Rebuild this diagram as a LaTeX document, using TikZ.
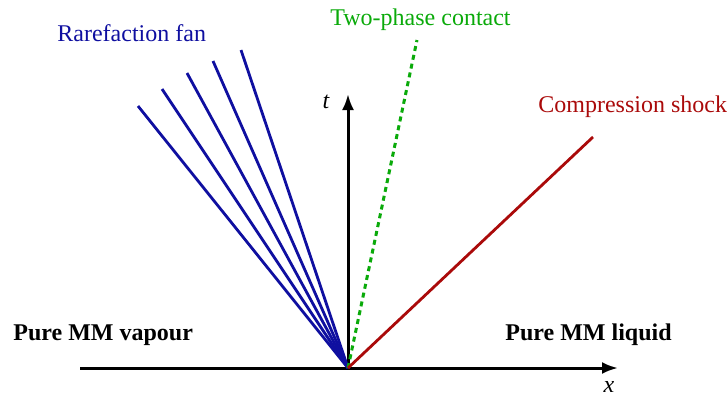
\documentclass[tikz,border=0pt]{standalone}
\usepackage{fontspec}
\IfFontExistsTF{LiberationSerif-Regular.ttf}{%
  \setmainfont{LiberationSerif-Regular.ttf}[BoldFont=LiberationSerif-Bold.ttf,ItalicFont=LiberationSerif-Italic.ttf]}{%
  \setmainfont{Liberation Serif}}
\usepackage{xcolor}
\usepackage{tikz}
\usetikzlibrary{arrows.meta}

\definecolor{fanblue}{RGB}{15,15,160}
\definecolor{contactgreen}{RGB}{10,170,10}
\definecolor{shockred}{RGB}{170,10,10}

\begin{document}
\begin{tikzpicture}[x=0.5pt,y=-0.5pt,font=\fontsize{12}{14}\selectfont,>={Latex[length=8pt,width=6pt]},
  axis/.style={draw=black,line width=1.5pt},
  fan/.style={draw=fanblue,line width=1.4pt},
  contact/.style={draw=contactgreen,line width=1.5pt,dash pattern=on 2.5pt off 2pt},
  shock/.style={draw=shockred,line width=1.4pt}]
  \useasboundingbox (0,0) rectangle (728,398);
  % origin and axes
  \coordinate (O) at (348,368);
  \coordinate (xend) at (618,368);
  \coordinate (xstart) at (80,368);
  \coordinate (tend) at (348,94);
  \draw[axis,->] (xstart) -- (xend);
  \draw[axis,->] (O) -- (tend);
  \node[anchor=base] (tlab) at (326,108) {\itshape t};
  \node[anchor=base] (xlab) at (609,392) {\itshape x};
  % rarefaction fan
  \foreach \i/\x/\y in {1/138/106,2/162/89,3/187/73,4/213/61,5/241/50}{
    \coordinate (f\i) at (\x,\y);
    \draw[fan] (O) -- (f\i);
  }
  % contact and shock
  \coordinate (c) at (417,40);
  \coordinate (s) at (593,137);
  \draw[contact] (O) -- (c);
  \draw[shock] (O) -- (s);
  % labels
  \node[anchor=base west,inner sep=0pt,text=fanblue] (fanlab) at (57,41) {Rarefaction fan};
  \node[anchor=base west,inner sep=0pt,text=contactgreen] (contlab) at (330,25) {Two-phase contact};
  \node[anchor=base west,inner sep=0pt,text=shockred] (shocklab) at (538,112) {Compression shock};
  \node[anchor=base west,inner sep=0pt,font=\fontsize{12}{14}\selectfont\bfseries] (vaplab) at (13,340) {Pure MM vapour};
  \node[anchor=base west,inner sep=0pt,font=\fontsize{12}{14}\selectfont\bfseries] (liqlab) at (505,340) {Pure MM liquid};
\end{tikzpicture}
\end{document}
